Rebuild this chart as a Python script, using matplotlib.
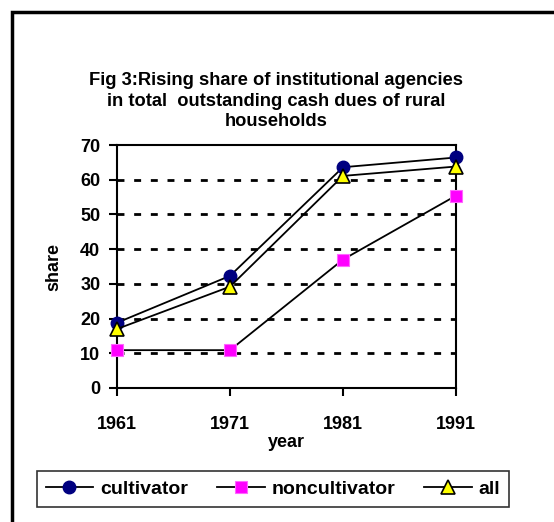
import matplotlib
matplotlib.use("Agg")
import matplotlib.pyplot as plt
from matplotlib.patches import Rectangle

plt.rcParams['font.family'] = ['Liberation Sans', 'DejaVu Sans']
plt.rcParams['font.weight'] = 'bold'

years = ['1961', '1971', '1981', '1991']
cultivator = [18.8, 32.3, 63.6, 66.4]
noncultivator = [10.9, 10.9, 37.0, 55.4]
all_hh = [17.0, 29.2, 61.1, 63.8]
yticks = [0, 10, 20, 30, 40, 50, 60, 70]

fig = plt.figure(figsize=(5.54, 5.22), dpi=100)
ax = fig.add_axes([117/554, 1 - 388/522, 339/554, 243/522])

x = range(len(years))
ax.plot(x, cultivator, color='black', lw=1.3, marker='o', ms=9,
        mfc='#000080', mec='#000080', label='cultivator', zorder=3, clip_on=False)
ax.plot(x, noncultivator, color='black', lw=1.3, marker='s', ms=8.5,
        mfc='#FF00FF', mec='#FF66FF', mew=0.8, label='noncultivator', zorder=3, clip_on=False)
ax.plot(x, all_hh, color='black', lw=1.3, marker='^', ms=9.5,
        mfc='#FFFF00', mec='black', mew=1.2, label='all', zorder=3, clip_on=False)

for v in yticks[1:-1]:
    ax.axhline(v, color='black', lw=2, ls=(0, (2.5, 3.5)), zorder=1)

ax.set_xlim(0, 3)
ax.set_ylim(0, 70)
ax.set_xticks(list(x))
ax.set_xticklabels(years)
ax.set_yticks(yticks)
ax.tick_params(axis='x', direction='out', length=6, width=1.5, pad=14, labelsize=13)
ax.tick_params(axis='y', direction='out', length=6, width=1.5, pad=6, labelsize=13)
for s in ax.spines.values():
    s.set_linewidth(1.5)

ax.set_xlabel('year', fontsize=13, fontweight='bold', labelpad=1)
ax.set_ylabel('share', fontsize=13, fontweight='bold', labelpad=13)

fig.text(276/554, 1 - 101/522,
         'Fig 3:Rising share of institutional agencies\nin total  outstanding cash dues of rural\nhouseholds',
         ha='center', va='center', fontsize=13.2, fontweight='bold', linespacing=1.3)

leg = fig.legend(loc='center', bbox_to_anchor=(273/554, 1 - 489/522), ncol=3,
                 frameon=True, fancybox=False, edgecolor='black', fontsize=14,
                 handlelength=2.45, columnspacing=1.5, handletextpad=0.35,
                 borderpad=0.45, borderaxespad=0)
leg.get_frame().set_linewidth(1.2)

fig.patches.append(Rectangle((12/554, -0.1), 1.2, 1 - 12/522 + 0.1,
                             transform=fig.transFigure, fill=False,
                             edgecolor='black', lw=2.5))

fig.savefig('out.png', dpi=100)
